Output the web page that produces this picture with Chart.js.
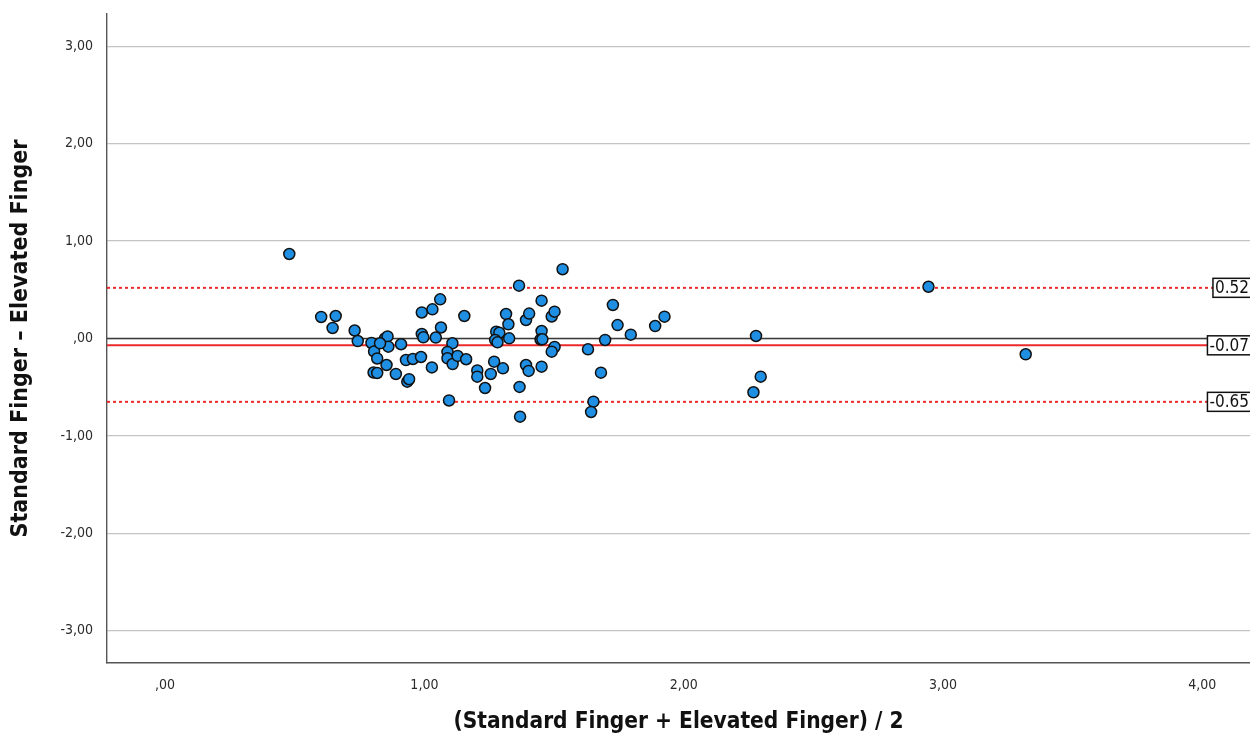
<!DOCTYPE html>
<html>
<head>
<meta charset="utf-8">
<title>Bland-Altman plot</title>
<script src="https://cdn.jsdelivr.net/npm/chart.js@4.4.0/dist/chart.umd.min.js"></script>
<style>
  html, body { margin: 0; padding: 0; background: #ffffff; }
  #wrap { width: 1250px; height: 738px; position: relative; }
</style>
</head>
<body>
<div id="wrap"><canvas id="chart"></canvas></div>
<script>
// (Standard + Elevated) / 2
const meanValues = [
  0.479, 0.602, 0.658, 0.646, 0.731, 0.743, 0.796, 0.806, 0.818, 0.848,
  0.858, 0.861, 0.854, 0.804, 0.818, 0.829, 0.890, 0.910, 0.934, 0.941,
  0.929, 0.956, 0.987, 0.990, 1.031, 1.061, 0.990, 0.996, 1.064, 1.044,
  1.029, 1.095, 1.108, 1.089, 1.089, 1.109, 1.128, 1.161, 1.154, 1.204,
  1.204, 1.234, 1.256, 1.269, 1.303, 1.277, 1.289, 1.273, 1.282, 1.327,
  1.315, 1.324, 1.365, 1.367, 1.369, 1.392, 1.404, 1.392, 1.402, 1.452,
  1.452, 1.448, 1.455, 1.452, 1.491, 1.502, 1.502, 1.491, 1.533, 1.631,
  1.652, 1.643, 1.681, 1.697, 1.727, 1.745, 1.796, 1.890, 1.926, 2.279,
  2.297, 2.269, 2.944, 3.319
];
// Standard - Elevated
const diffValues = [
  0.867, 0.221, 0.231, 0.108, 0.082, -0.026, -0.046, -0.133, -0.205, 0.000,
  0.021, -0.084, -0.272, -0.349, -0.354, -0.049, -0.364, -0.059, -0.443, -0.418,
  -0.221, -0.210, -0.190, 0.267, 0.299, 0.402, 0.046, 0.012, 0.113, 0.010,
  -0.297, -0.636, -0.049, -0.138, -0.203, -0.262, -0.179, -0.213, 0.231, -0.328,
  -0.392, -0.508, -0.364, -0.238, -0.306, 0.070, 0.059, -0.015, -0.039, 0.002,
  0.251, 0.146, 0.542, -0.497, -0.802, 0.190, 0.256, -0.272, -0.333, 0.388,
  0.077, -0.010, -0.008, -0.289, 0.226, 0.275, -0.087, -0.135, 0.711, -0.111,
  -0.648, -0.754, -0.351, -0.015, 0.344, 0.138, 0.039, 0.128, 0.224, 0.026,
  -0.392, -0.552, 0.531, -0.162
];

const meanDiff = -0.07;
const upperLimit = 0.52;
const lowerLimit = -0.65;
const refLines = [
  { value: upperLimit, label: '0.52' },
  { value: meanDiff, label: '-0.07' },
  { value: lowerLimit, label: '-0.65' }
];

const xTickValues = [0, 1, 2, 3, 4];
const yTickValues = [-3, -2, -1, 0, 1, 2, 3];
const xRange = [-0.224, 4.184];
const yRange = [-3.33, 3.33];

const xTitle = '(Standard Finger + Elevated Finger) / 2';
const yTitle = 'Standard Finger \u2013 Elevated Finger';

// SPSS style labels: ",00", "1,00", "-2,00"
const fmtComma = (v) => v === 0 ? ',00' : v.toFixed(2).replace('.', ',');

const points = meanValues.map((m, i) => ({ x: m, y: diffValues[i] }));
const hLine = (v) => [{ x: xRange[0], y: v }, { x: xRange[1], y: v }];

const RED = '#ec2a2a';
const axisFont = "'Liberation Sans Narrow', 'DejaVu Sans Condensed', 'Liberation Sans', sans-serif";

// boxed value labels at the right end of the limit lines
const boxLabels = {
  id: 'boxLabels',
  afterDatasetsDraw(chart) {
    const { ctx } = chart;
    const yScale = chart.scales.y;
    ctx.save();
    ctx.font = "17px " + axisFont;
    ctx.textBaseline = 'middle';
    refLines.forEach(r => {
      const y = yScale.getPixelForValue(r.value);
      const w = ctx.measureText(r.label).width;
      const right = chart.width + 2;
      const left = right - w - 5;
      ctx.fillStyle = '#ffffff';
      ctx.fillRect(left, y - 9.5, w + 12, 19);
      ctx.strokeStyle = '#111111';
      ctx.lineWidth = 1.5;
      ctx.strokeRect(left, y - 9.5, w + 12, 19);
      ctx.fillStyle = '#111111';
      ctx.textAlign = 'left';
      ctx.fillText(r.label, left + 2, y + 1);
    });
    ctx.restore();
  }
};

new Chart(document.getElementById('chart'), {
  type: 'scatter',
  data: {
    datasets: [
      {
        label: 'Differences',
        data: points,
        backgroundColor: '#1f8fe3',
        borderColor: '#111111',
        borderWidth: 1.5,
        pointRadius: 5.5,
        pointHoverRadius: 5.5
      },
      {
        label: 'Zero',
        data: hLine(0),
        showLine: true,
        borderColor: '#3a3a3a',
        borderWidth: 1.6,
        pointRadius: 0
      },
      {
        label: 'Mean',
        data: hLine(meanDiff),
        showLine: true,
        borderColor: RED,
        borderWidth: 2,
        pointRadius: 0
      },
      {
        label: 'Upper LoA',
        data: hLine(upperLimit),
        showLine: true,
        borderColor: RED,
        borderWidth: 2,
        borderDash: [3, 3],
        pointRadius: 0
      },
      {
        label: 'Lower LoA',
        data: hLine(lowerLimit),
        showLine: true,
        borderColor: RED,
        borderWidth: 2,
        borderDash: [3, 3],
        pointRadius: 0
      }
    ]
  },
  options: {
    responsive: true,
    maintainAspectRatio: false,
    animation: false,
    layout: { autoPadding: false, padding: { top: 14, right: 0, left: 0, bottom: 0 } },
    plugins: {
      legend: { display: false },
      tooltip: { enabled: false }
    },
    scales: {
      x: {
        type: 'linear',
        min: xRange[0],
        max: xRange[1],
        afterBuildTicks: (s) => { s.ticks = xTickValues.map(v => ({ value: v })); },
        afterFit: (s) => { s.height = 75; s.paddingLeft = 0; s.paddingRight = 0; },
        grid: { display: false, drawTicks: false },
        border: { color: '#555555', width: 1.4 },
        ticks: {
          padding: 14,
          color: '#2a2a2a',
          font: { family: axisFont, size: 14 },
          callback: (v) => fmtComma(v)
        },
        title: {
          display: true,
          text: xTitle,
          color: '#111111',
          font: { family: axisFont, size: 22.5, weight: 'bold' },
          padding: { top: 0, bottom: 2 }
        }
      },
      y: {
        type: 'linear',
        min: yRange[0],
        max: yRange[1],
        afterBuildTicks: (s) => { s.ticks = yTickValues.map(v => ({ value: v })); },
        afterFit: (s) => { s.width = 107; s.paddingTop = 0; s.paddingBottom = 0; },
        grid: { color: '#c4c4c4', lineWidth: 1.3, drawTicks: false },
        border: { color: '#555555', width: 1.4 },
        ticks: {
          padding: 14,
          color: '#2a2a2a',
          font: { family: axisFont, size: 14 },
          callback: (v) => fmtComma(v)
        },
        title: {
          display: true,
          text: yTitle,
          color: '#111111',
          font: { family: axisFont, size: 23, weight: 'bold' },
          padding: { top: 7, bottom: 0 }
        }
      }
    }
  },
  plugins: [boxLabels]
});
</script>
</body>
</html>
